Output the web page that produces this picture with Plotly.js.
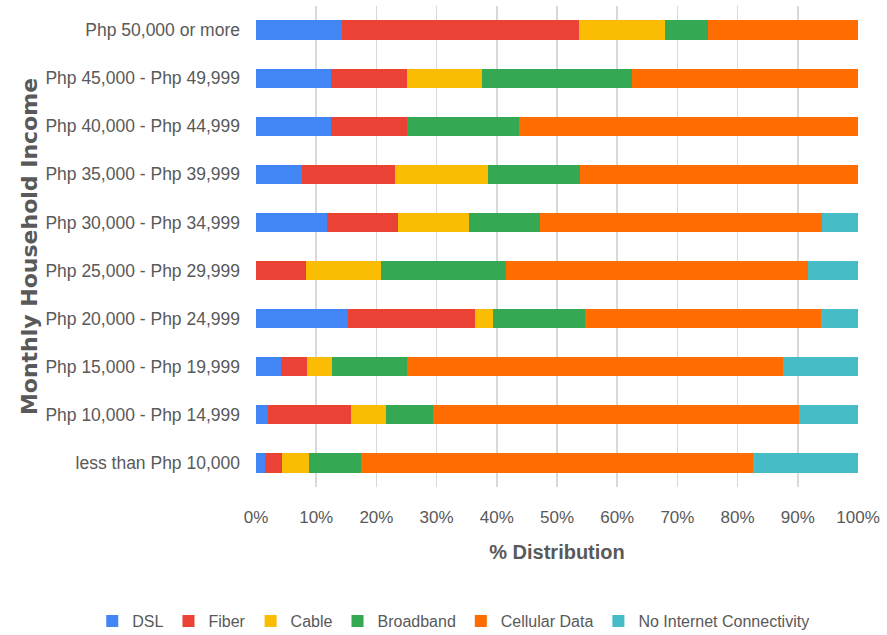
<!DOCTYPE html>
<html>
<head>
<meta charset="utf-8">
<script src="https://cdn.plot.ly/plotly-3.0.1.min.js"></script>
<style>html,body{margin:0;padding:0;background:#fff;}#chart{width:887px;height:635px;}</style>
</head>
<body>
<div id="chart"></div>
<script>
const categories = [
  "Php 50,000 or more",
  "Php 45,000 - Php 49,999",
  "Php 40,000 - Php 44,999",
  "Php 35,000 - Php 39,999",
  "Php 30,000 - Php 34,999",
  "Php 25,000 - Php 29,999",
  "Php 20,000 - Php 24,999",
  "Php 15,000 - Php 19,999",
  "Php 10,000 - Php 14,999",
  "less than Php 10,000"
];
const dsl        = [14.3, 12.5, 12.5,  7.7, 11.8, 0,    15.2, 4.2,  2.0,  1.5];
const fiber      = [39.3, 12.5, 12.5,  15.4, 11.8, 8.3, 21.2, 4.2,  13.7, 2.9];
const cable      = [14.3, 12.5, 0,     15.4, 11.8, 12.5, 3.0, 4.2,  5.9,  4.4];
const broadband  = [7.1,  25.0, 18.75, 15.4, 11.8, 20.8, 15.2, 12.5, 7.8,  8.7];
const cellular   = [25.0, 37.5, 56.25, 46.1, 46.9, 50.1, 39.3, 62.4, 60.8, 65.1];
const noInternet = [0,    0,    0,     0,    5.9,  8.3,  6.1,  12.5, 9.8,  17.4];
const xTicks = [0, 10, 20, 30, 40, 50, 60, 70, 80, 90, 100];
const xTickLabels = ["0%", "10%", "20%", "30%", "40%", "50%", "60%", "70%", "80%", "90%", "100%"];

const seriesNames = ["DSL", "Fiber", "Cable", "Broadband", "Cellular Data", "No Internet Connectivity"];
const seriesValues = [dsl, fiber, cable, broadband, cellular, noInternet];
const seriesColors = ["#4285F4", "#EA4335", "#FBBC04", "#34A853", "#FF6D00", "#46BDC6"];

const traces = seriesNames.map((n, i) => ({
  type: "bar",
  orientation: "h",
  name: n,
  y: categories,
  x: seriesValues[i],
  marker: { color: seriesColors[i], line: { width: 0 } },
  hoverinfo: "x+name"
}));

const layout = {
  width: 887,
  height: 635,
  barmode: "stack",
  bargap: 0.6,
  margin: { l: 256, r: 29, t: 6, b: 148, autoexpand: false },
  paper_bgcolor: "#ffffff",
  plot_bgcolor: "#ffffff",
  font: { family: "Liberation Sans, Arial, sans-serif", color: "#595959", size: 17 },
  xaxis: {
    range: [0, 100],
    tickvals: xTicks,
    ticktext: xTickLabels,
    showgrid: true,
    gridcolor: "#d9d9d9",
    gridwidth: 1.5,
    zeroline: false,
    showline: false,
    ticks: "",
    ticklabelstandoff: 18,
    tickfont: { size: 17, color: "#595959" },
    title: { text: "<b>% Distribution</b>", font: { size: 20, color: "#595959" }, standoff: 18 },
    fixedrange: true
  },
  yaxis: {
    autorange: "reversed",
    showgrid: false,
    showline: false,
    zeroline: false,
    ticks: "",
    ticklabelstandoff: 15,
    tickfont: { size: 17.5, color: "#595959" },
    title: { text: "<b>Monthly Household Income</b>", font: { family: "DejaVu Sans, sans-serif", size: 22, color: "#595959" }, standoff: 1 },
    fixedrange: true
  },
  legend: {
    orientation: "h",
    x: -0.272,
    xanchor: "left",
    y: -0.279,
    yanchor: "middle",
    font: { size: 16, color: "#595959" },
    traceorder: "normal",
    bgcolor: "rgba(0,0,0,0)"
  },
  showlegend: true
};

Plotly.newPlot("chart", traces, layout, { displayModeBar: false, staticPlot: true });
</script>
</body>
</html>
